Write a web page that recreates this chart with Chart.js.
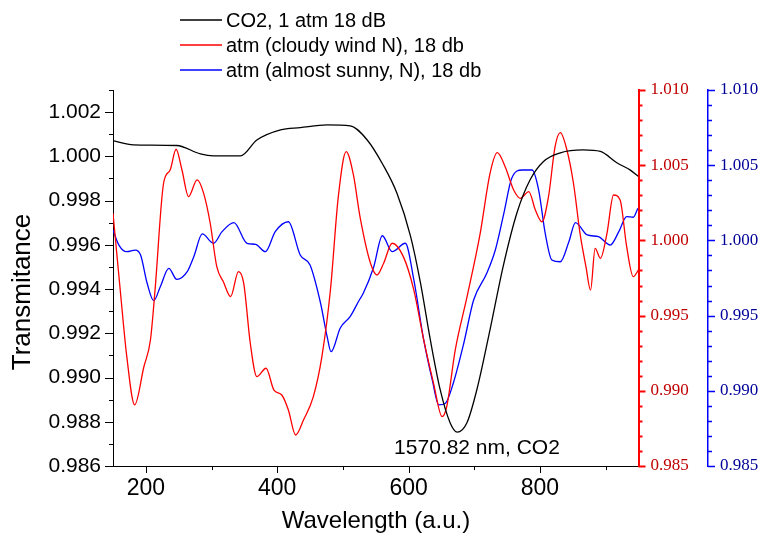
<!DOCTYPE html>
<html>
<head>
<meta charset="utf-8">
<script src="https://cdn.jsdelivr.net/npm/chart.js@4.4.0/dist/chart.umd.min.js"></script>
<style>
  html, body { margin: 0; padding: 0; background: #fff; }
</style>
</head>
<body>
<canvas id="specChart" width="761" height="536"></canvas>
<script>
/* ── data ── */
const seriesNames = ['CO2, 1 atm 18 dB', 'atm (cloudy wind N), 18 db', 'atm (almost sunny, N), 18 db'];

const co2X = [150, 181, 247, 283, 303, 344, 369, 405, 435, 476, 511, 537, 561, 582, 603, 618, 633, 648, 663, 674,
  689, 704, 724, 744, 765, 785, 805, 831, 866, 892, 917, 937, 950];
const co2Y = [1.00071, 1.00052, 1.00049, 1.00011, 1.00002, 1.00002, 1.00074, 1.00120, 1.00130, 1.00142, 1.00138,
  1.00074, 0.99962, 0.99835, 0.99638, 0.99429, 0.99172, 0.98946, 0.98797, 0.98753, 0.98797, 0.98946, 0.99217,
  0.99503, 0.99745, 0.99894, 0.99976, 1.00016, 1.00029, 1.00022, 0.99971, 0.99939, 0.99909];

const cloudyX = [150, 161, 171, 183, 197, 207, 214, 227, 237, 246, 255, 265, 278, 288, 298, 308, 318, 329, 341, 349,
  359, 369, 383, 395, 407, 417, 428, 440, 455, 468, 481, 493, 505, 516, 526, 542, 552, 562, 575, 592,
  608, 623, 638, 651, 658, 671, 689, 709, 724, 735, 747, 760, 770, 783, 793, 803, 813, 823, 831, 841,
  851, 861, 870, 877, 884, 892, 902, 912, 922, 932, 942, 950];
const cloudyY = [1.00180, 0.99670, 0.99227, 0.98906, 0.99160, 0.99338, 0.99670, 1.00380, 1.00468, 1.00606,
  1.00468, 1.00291, 1.00402, 1.00313, 1.00114, 0.99825, 0.99725, 0.99626, 0.99792, 0.99715,
  0.99316, 0.99094, 0.99150, 0.99005, 0.98972, 0.98872, 0.98706, 0.98806, 0.98961, 0.99227,
  0.99670, 1.00291, 1.00590, 1.00435, 1.00158, 0.99848, 0.99770, 0.99848, 0.99981, 0.99892,
  0.99670, 0.99338, 0.99050, 0.98828, 0.98894, 0.99271, 0.99626, 1.00047, 1.00446, 1.00583,
  1.00490, 1.00335, 1.00280, 1.00324, 1.00202, 1.00124, 1.00291, 1.00623, 1.00716, 1.00601,
  1.00380, 1.00047, 0.99825, 0.99670, 0.99947, 0.99881, 1.00047, 1.00302, 1.00269, 0.99958,
  0.99759, 0.99803];

const sunnyX = [150, 159, 171, 184, 192, 202, 212, 222, 235, 247, 263, 273, 286, 303, 316, 334, 354, 367, 382, 397,
  417, 435, 450, 466, 476, 482, 496, 511, 525, 531, 547, 560, 575, 595, 608, 623, 636, 646, 656, 668,
  684, 699, 719, 732, 745, 757, 773, 788, 798, 808, 818, 831, 844, 854, 872, 889, 907, 920, 932, 942, 949];
const sunnyY = [1.00069, 0.99969, 0.99925, 0.99936, 0.99903, 0.99715, 0.99599, 0.99692, 0.99814, 0.99741,
  0.99792, 0.99892, 1.00043, 0.99981, 1.00058, 1.00118, 0.99981, 0.99974, 0.99925, 1.00058,
  1.00124, 0.99903, 0.99836, 0.99582, 0.99360, 0.99260, 0.99418, 0.99493, 0.99604, 0.99648,
  0.99825, 1.00031, 0.99925, 0.99981, 0.99737, 0.99338, 0.99072, 0.98906, 0.98917, 0.99050,
  0.99316, 0.99604, 0.99781, 0.99936, 1.00180, 1.00413, 1.00468, 1.00468, 1.00335, 1.00047,
  0.99870, 0.99858, 0.99991, 1.00118, 1.00036, 1.00025, 0.99969, 1.00058, 1.00158, 1.00154, 1.00213];

const xTickValues = [200, 300, 400, 500, 600, 700, 800, 900];
const xTickLabels = [200, 400, 600, 800];
const annotationText = '1570.82 nm, CO2';

const FONT = "'Liberation Sans', Arial, sans-serif";
const SERIF = "'Liberation Serif', 'Times New Roman', serif";
const COL = { black: '#000000', red: '#ff0000', blue: '#0000ff', redText: '#c00000', blueText: '#000099' };

const pts = (xs, ys) => xs.map((x, i) => ({ x, y: ys[i] }));
const thou = v => Math.round(v * 1000);

/* tick marks drawn by hand so minor ticks can be shorter */
const tickMarks = {
  id: 'tickMarks',
  afterDraw(chart) {
    const { ctx, scales } = chart;
    const a = chart.chartArea;
    ctx.save();
    ctx.lineWidth = 1;
    ctx.strokeStyle = COL.black;
    // bottom
    scales.x.ticks.forEach(t => {
      const v = Math.round(t.value);
      const px = Math.round(scales.x.getPixelForValue(v)) + 0.5;
      ctx.beginPath(); ctx.moveTo(px, a.bottom); ctx.lineTo(px, a.bottom + (xTickLabels.includes(v) ? 7 : 4)); ctx.stroke();
    });
    // left
    scales.y.ticks.forEach(t => {
      const py = Math.round(scales.y.getPixelForValue(t.value)) + 0.5;
      const len = thou(t.value) % 2 === 0 ? 8 : 4;
      ctx.beginPath(); ctx.moveTo(a.left, py); ctx.lineTo(a.left - len, py); ctx.stroke();
    });
    // right pair
    [['y2', COL.red, 2], ['y3', COL.blue, 1.5]].forEach(([id, c, w]) => {
      const s = scales[id];
      ctx.strokeStyle = c; ctx.lineWidth = w;
      s.ticks.forEach(t => {
        const py = Math.round(s.getPixelForValue(t.value)) + 0.5;
        const len = thou(t.value) % 5 === 0 ? 7 : 4;
        ctx.beginPath(); ctx.moveTo(s.left, py); ctx.lineTo(s.left + len, py); ctx.stroke();
      });
    });
    ctx.restore();
  }
};

/* legend, axis titles, annotation */
const overlay = {
  id: 'overlay',
  afterDraw(chart) {
    const ctx = chart.ctx;
    const colors = [COL.black, COL.red, COL.blue];
    ctx.save();
    ctx.textBaseline = 'middle';
    ctx.textAlign = 'left';
    ctx.font = '20px ' + FONT;
    seriesNames.forEach((name, i) => {
      const y = 20 + i * 25;
      ctx.strokeStyle = colors[i]; ctx.lineWidth = 1.5;
      ctx.beginPath(); ctx.moveTo(180, y); ctx.lineTo(222, y); ctx.stroke();
      ctx.fillStyle = '#000';
      ctx.fillText(name, 226, y + 1);
    });
    ctx.fillStyle = '#000';
    ctx.textAlign = 'center';
    ctx.font = '21px ' + FONT;
    ctx.fillText(annotationText, 477, 448);
    ctx.font = '24px ' + FONT;
    ctx.fillText('Wavelength (a.u.)', 376, 521);
    ctx.translate(23, 292);
    ctx.rotate(-Math.PI / 2);
    ctx.font = '26px ' + FONT;
    ctx.fillText('Transmitance', 0, 0);
    ctx.restore();
  }
};

const lineDs = (label, data, color, axis) => ({
  label, data, borderColor: color, backgroundColor: color, borderWidth: 1.3,
  pointRadius: 0, cubicInterpolationMode: 'monotone', yAxisID: axis, fill: false
});

new Chart(document.getElementById('specChart'), {
  type: 'line',
  data: {
    datasets: [
      lineDs(seriesNames[0], pts(co2X, co2Y), COL.black, 'y'),
      lineDs(seriesNames[1], pts(cloudyX, cloudyY), COL.red, 'y2'),
      lineDs(seriesNames[2], pts(sunnyX, sunnyY), COL.blue, 'y3'),
    ]
  },
  options: {
    responsive: false, animation: false, devicePixelRatio: 1,
    layout: { padding: { top: 90, left: 0, right: 0, bottom: 0 } },
    plugins: { legend: { display: false }, tooltip: { enabled: false } },
    scales: {
      x: {
        type: 'linear', min: 150, max: 950,
        grid: { display: false, drawTicks: false },
        border: { display: true, color: COL.black, width: 1 },
        afterBuildTicks: s => { s.ticks = xTickValues.map(v => ({ value: v })); },
        ticks: {
          autoSkip: false, maxRotation: 0, padding: 9, color: '#000',
          font: { family: FONT, size: 23 },
          callback: v => xTickLabels.includes(Math.round(v)) ? String(Math.round(v)) : ''
        },
        afterFit: s => { s.height = 70; }
      },
      y: {
        position: 'left', min: 0.986, max: 1.003,
        grid: { display: false, drawTicks: false },
        border: { display: true, color: COL.black, width: 1 },
        ticks: {
          stepSize: 0.001, autoSkip: false, padding: 12, color: '#000',
          font: { family: FONT, size: 21 },
          callback: v => thou(v) % 2 === 0 ? (thou(v) / 1000).toFixed(3) : ''
        },
        afterFit: s => { s.width = 113; }
      },
      y2: {
        position: 'right', weight: 0, min: 0.985, max: 1.010,
        grid: { display: false, drawTicks: false },
        border: { display: true, color: COL.red, width: 2 },
        ticks: {
          stepSize: 0.001, autoSkip: false, padding: 12, color: COL.redText,
          font: { family: SERIF, size: 17 },
          callback: v => thou(v) % 5 === 0 ? (thou(v) / 1000).toFixed(3) : ''
        },
        afterFit: s => { s.width = 69.5; }
      },
      y3: {
        position: 'right', weight: 1, min: 0.985, max: 1.010,
        grid: { display: false, drawTicks: false },
        border: { display: true, color: COL.blue, width: 1.5 },
        ticks: {
          stepSize: 0.001, autoSkip: false, padding: 12, color: COL.blueText,
          font: { family: SERIF, size: 17 },
          callback: v => thou(v) % 5 === 0 ? (thou(v) / 1000).toFixed(3) : ''
        },
        afterFit: s => { s.width = 53; }
      }
    }
  },
  plugins: [tickMarks, overlay]
});
</script>
</body>
</html>
